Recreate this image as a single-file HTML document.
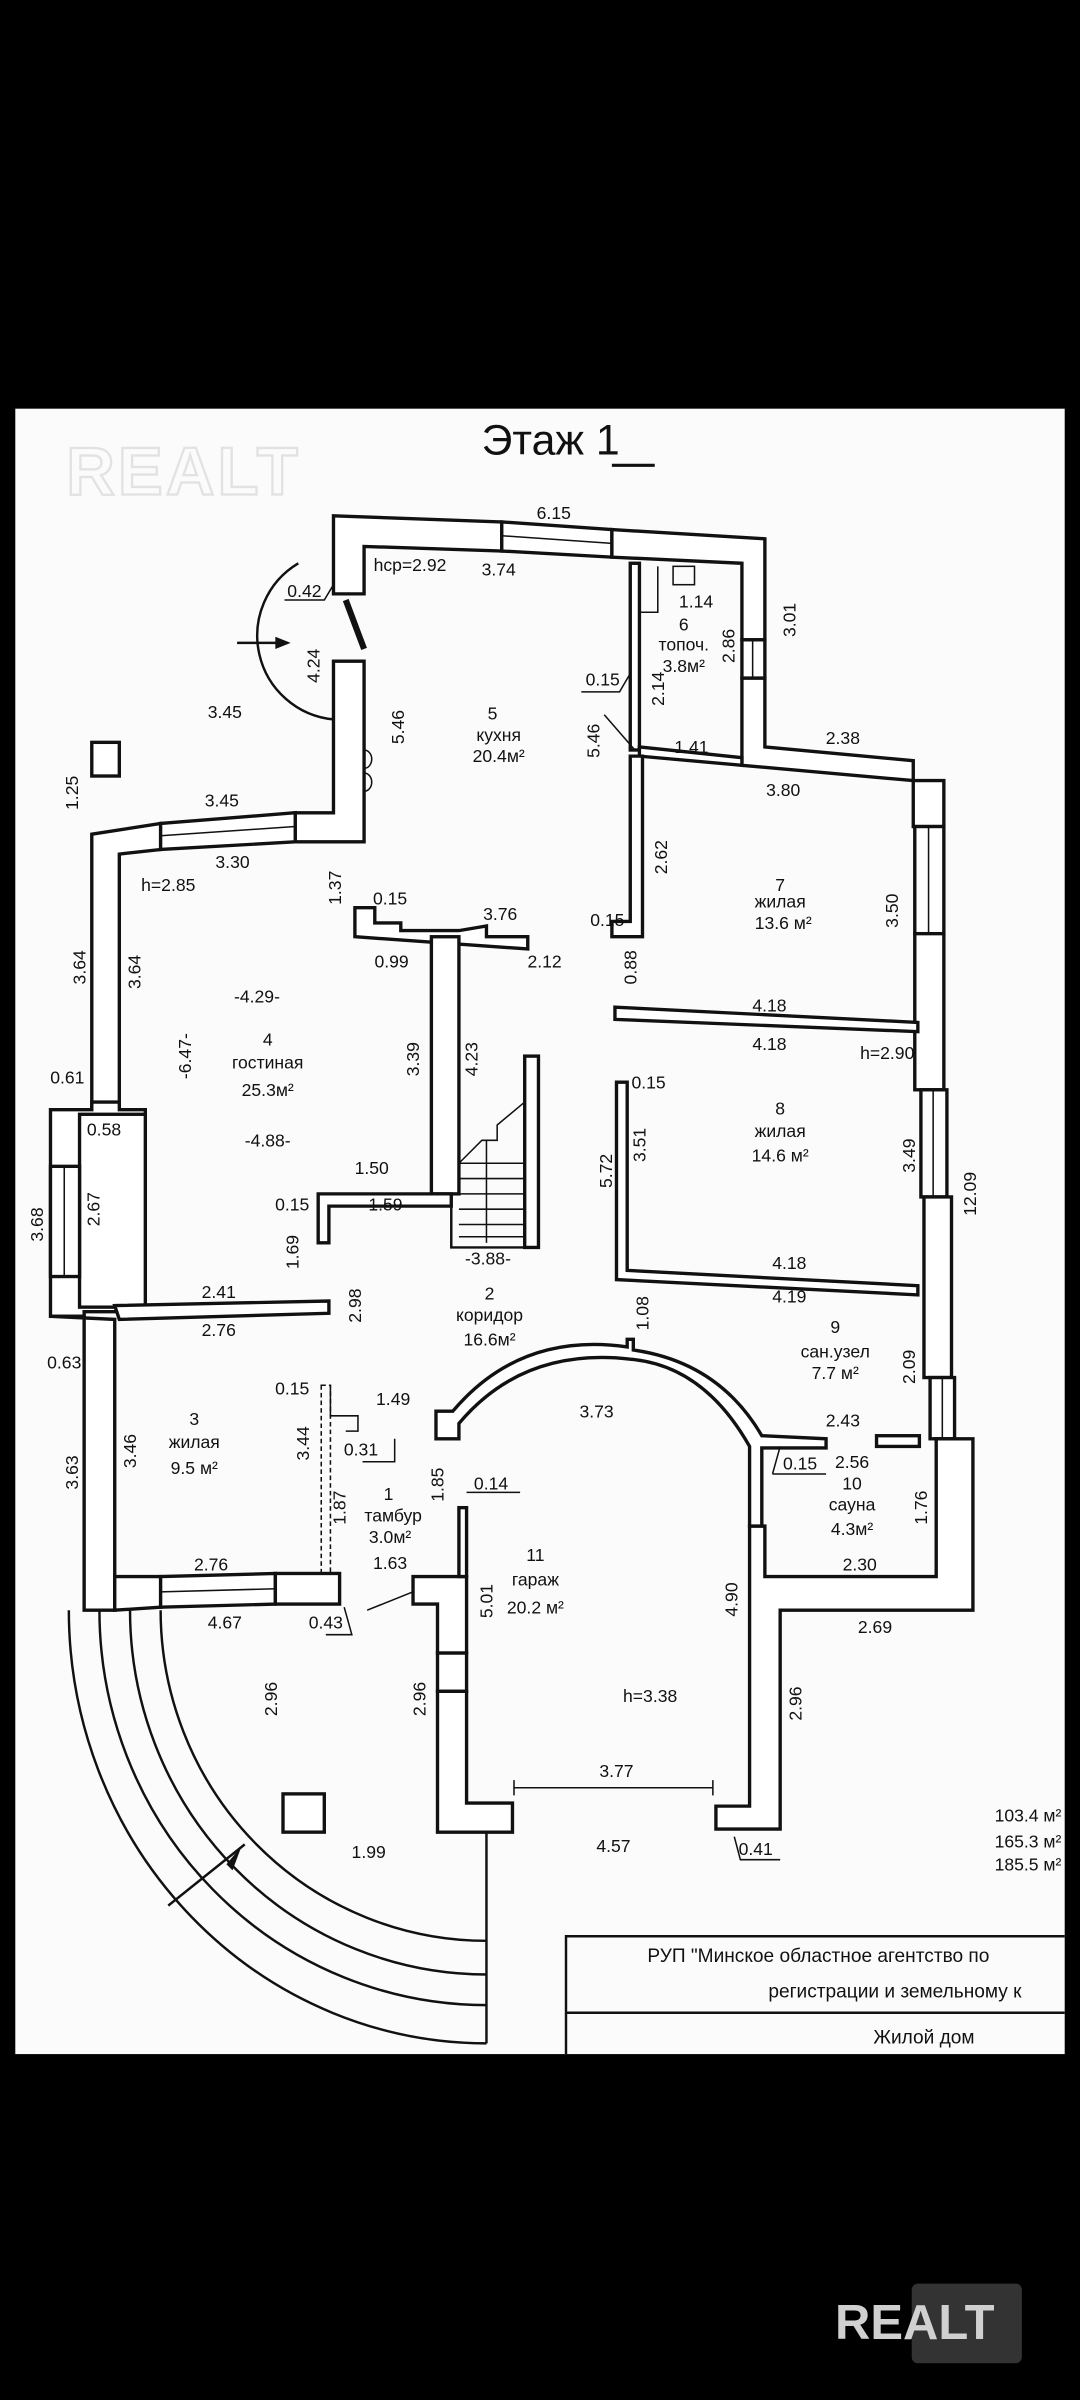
<!DOCTYPE html>
<html><head><meta charset="utf-8"><style>
html,body{margin:0;padding:0;background:#000;}
svg{display:block}
text{font-family:"Liberation Sans","DejaVu Sans",sans-serif;font-size:11.5px;fill:#111;text-anchor:middle}
.w{fill:#fff;stroke:#111;stroke-width:2.2}
.l{fill:none;stroke:#111;stroke-width:1.6}
.t{fill:none;stroke:#111;stroke-width:1}
</style></head><body>
<svg width="1080" height="2400" viewBox="0 0 706 1568" preserveAspectRatio="none">
<rect x="0" y="0" width="706" height="1568" fill="#000"/>
<rect x="10" y="267" width="686" height="1075" fill="#fbfbfb"/>
<!-- watermark -->
<text x="120" y="323" style="font-size:44px;font-weight:bold;fill:#fbfbfb;stroke:#e2e2e2;stroke-width:1.5;letter-spacing:2px">REALT</text>
<!-- title -->
<text x="360" y="297" style="font-size:28px">Этаж <tspan>1</tspan></text>
<line x1="400" y1="304" x2="428" y2="304" stroke="#111" stroke-width="2"/>

<!-- kitchen walls -->
<polygon class="w" points="218,337 328,341 328,360 238,357 238,388 218,388"/>
<polygon class="w" points="328,341 400,346 400,364 328,360"/>
<line class="t" x1="328" y1="350" x2="400" y2="355"/>
<polygon class="w" points="400,346 500,352 500,418 485,418 485,368 400,364"/>
<polygon class="w" points="485,443 500,443 500,488 597,497 597,540 617,540 617,510 597,510 485,500"/>
<rect class="w" x="485" y="418" width="15" height="25"/>
<line class="t" x1="492" y1="418" x2="492" y2="443"/>
<!-- door -->
<path class="l" d="M195,368 A55,55 0 0 0 218,470"/>
<line x1="226" y1="392" x2="238" y2="424" stroke="#111" stroke-width="4"/>
<line class="l" x1="155" y1="420" x2="188" y2="420"/>
<polygon points="190,420 180,416 180,424" fill="#111"/>
<polygon class="w" points="218,432 238,432 238,550 193,550 193,531 218,531"/>
<path class="t" d="M238,490 a5,6 0 0 1 0,12 M238,505 a5,6 0 0 1 0,12"/>
<polygon class="w" points="60,545 105,538 105,555 78,558 78,725 60,725"/>
<polygon class="w" points="105,538 193,531 193,550 105,555"/>
<line class="t" x1="105" y1="546" x2="193" y2="540"/>
<!-- boiler room -->
<rect class="w" x="412" y="368" width="6" height="122"/>
<polyline class="t" points="418,368 418,400 430,400 430,370"/>
<rect class="t" x="440" y="370" width="14" height="12"/>
<polygon class="w" points="418,488 485,495 485,500 418,494"/>
<line class="t" x1="395" y1="467" x2="415" y2="490"/>
<!-- room7 left wall -->
<polygon class="w" points="412,494 420,494 420,612 400,612 400,602 412,602"/>
<!-- right wall -->
<rect class="w" x="598" y="540" width="19" height="70"/>
<line class="t" x1="607" y1="540" x2="607" y2="610"/>
<rect class="w" x="598" y="610" width="19" height="102"/>
<rect class="w" x="602" y="712" width="17" height="70"/>
<line class="t" x1="610" y1="712" x2="610" y2="782"/>
<rect class="w" x="604" y="782" width="18" height="118"/>
<rect class="w" x="608" y="900" width="16" height="40"/>
<line class="t" x1="616" y1="900" x2="616" y2="940"/>
<polygon class="w" points="612,940 636,940 636,1052 510,1052 510,1195 468,1195 468,1180 490,1180 490,997 500,997 500,1030 612,1030"/>
<!-- interior partitions -->
<polygon class="w" points="402,658 600,668 600,674 402,666"/>
<polygon class="w" points="403,707 410,707 410,830 600,840 600,846 403,836"/>
<!-- kitchen/living partition -->
<polygon class="w" points="232,593 245,593 245,603 262,603 262,608 300,608 318,605 318,612 345,612 345,620 232,612"/>
<rect class="w" x="282" y="612" width="18" height="168"/>
<!-- stairs -->
<rect class="w" x="343" y="690" width="9" height="125"/>
<polyline class="l" points="295,780 295,815 352,815"/>
<polyline class="t" points="300,780 300,760 315,745 325,745 325,735 343,720"/>
<g class="t"><line x1="300" y1="760" x2="343" y2="760"/><line x1="300" y1="770" x2="343" y2="770"/><line x1="300" y1="780" x2="343" y2="780"/><line x1="300" y1="790" x2="343" y2="790"/><line x1="300" y1="800" x2="343" y2="800"/><line x1="300" y1="808" x2="343" y2="808"/><line x1="318" y1="745" x2="318" y2="812"/></g>
<polygon class="w" points="208,780 295,780 295,788 215,788 215,812 208,812"/>
<!-- left wall bump -->
<polygon class="w" points="33,725 60,725 60,720 78,720 78,725 95,725 95,857 55,857 55,860 33,860"/>
<rect class="w" x="52" y="728" width="43" height="126"/>
<rect class="w" x="33" y="762" width="19" height="72"/>
<line class="t" x1="42" y1="762" x2="42" y2="834"/>
<polygon class="w" points="75,853 215,850 215,858 78,862"/>
<polygon class="w" points="33,860 55,860 55,1052 75,1052 75,862"/>
<!-- room3 bottom -->
<polygon class="w" points="75,1030 105,1030 105,1050 75,1052"/>
<polygon class="w" points="105,1030 180,1028 180,1048 105,1050"/>
<line class="t" x1="105" y1="1040" x2="180" y2="1038"/>
<rect class="w" x="180" y="1028" width="42" height="20"/>
<rect class="t" x="210" y="905" width="6" height="123" stroke-dasharray="3,2"/>
<polyline class="t" points="216,905 216,925 234,925 234,935 226,935"/>
<!-- garage walls -->
<polygon class="w" points="270,1030 305,1030 305,1080 286,1080 286,1048 270,1048"/>
<rect class="w" x="286" y="1080" width="19" height="25"/>
<polygon class="w" points="286,1105 305,1105 305,1178 335,1178 335,1197 286,1197"/>
<rect class="w" x="300" y="985" width="5" height="45"/>
<!-- arc -->
<path class="w" d="M285,940 L285,922 L296,922 Q340,870 410,880 L410,875 L414,875 L414,882 Q470,890 498,938 L540,940 L540,946 L498,946 L498,997 L490,997 L490,945 Q460,892 412,888 Q342,880 300,930 L300,940 Z"/>
<rect class="w" x="573" y="938" width="28" height="7"/>
<!-- small squares -->
<rect class="w" x="60" y="485" width="18" height="22" stroke-width="2.5"/>
<rect class="w" x="185" y="1172" width="27" height="25" stroke-width="2.5"/>
<!-- porch arcs -->
<g class="l">
<path d="M45,1052 A273,283 0 0 0 318,1335"/>
<path d="M65,1052 A253,258 0 0 0 318,1310"/>
<path d="M85,1052 A233,238 0 0 0 318,1290"/>
<path d="M105,1052 A213,216 0 0 0 318,1268"/>
<line x1="318" y1="1197" x2="318" y2="1335"/>
<line x1="110" y1="1245" x2="160" y2="1205"/>
</g>
<polygon points="148,1218 158,1206 152,1222" fill="#111"/>
<!-- dimension line -->
<line class="t" x1="336" y1="1168" x2="466" y2="1168"/><line class="t" x1="336" y1="1163" x2="336" y2="1173"/><line class="t" x1="466" y1="1163" x2="466" y2="1173"/>
<!-- leaders -->
<g class="t">
<polyline points="186,392 212,392 218,382"/>
<polyline points="380,452 405,452 412,440"/>
<polyline points="237,955 258,955 258,940"/>
<polyline points="213,1068 230,1068 225,1050"/>
<polyline points="305,975 340,975"/><line x1="240" y1="1052" x2="270" y2="1040"/>
<polyline points="505,963 540,963"/><line x1="505" y1="963" x2="510" y2="945"/>
<polyline points="480,1200 484,1215 510,1215"/>
</g>
<!-- title block -->
<polyline class="l" points="696,1265 370,1265 370,1342"/>
<line class="l" x1="370" y1="1315" x2="696" y2="1315"/>
<text x="535" y="1282" style="font-size:12.5px">РУП "Минское областное агентство по</text>
<text x="585" y="1305" style="font-size:12.5px">регистрации и земельному к</text>
<text x="604" y="1335" style="font-size:12.5px">Жилой дом</text>
<text x="672" y="1190" style="font-size:11.5px">103.4 м²</text>
<text x="672" y="1207" style="font-size:11.5px">165.3 м²</text>
<text x="672" y="1222" style="font-size:11.5px">185.5 м²</text>
<!-- labels -->
<text x="362" y="339">6.15</text><text x="268" y="373">hcp=2.92</text><text x="326" y="376">3.74</text>
<text x="199" y="390">0.42</text><text x="455" y="397">1.14</text><text x="447" y="412">6</text>
<text x="447" y="425">топоч.</text><text x="447" y="439">3.8м²</text>
<text x="394" y="448">0.15</text><text x="452" y="492">1.41</text><text x="551" y="486">2.38</text>
<text x="512" y="520">3.80</text><text x="147" y="469">3.45</text><text x="322" y="470">5</text>
<text x="326" y="484">кухня</text><text x="326" y="498">20.4м²</text><text x="145" y="527">3.45</text>
<text x="152" y="567">3.30</text><text x="110" y="582">h=2.85</text><text x="255" y="591">0.15</text>
<text x="327" y="601">3.76</text><text x="256" y="632">0.99</text><text x="356" y="632">2.12</text>
<text x="510" y="582">7</text><text x="510" y="593">жилая</text><text x="512" y="607">13.6 м²</text>
<text x="397" y="605">0.15</text><text x="168" y="655">-4.29-</text><text x="503" y="661">4.18</text>
<text x="503" y="686">4.18</text><text x="580" y="692">h=2.90</text><text x="175" y="683">4</text>
<text x="175" y="698">гостиная</text><text x="175" y="716">25.3м²</text><text x="44" y="708">0.61</text>
<text x="424" y="711">0.15</text><text x="68" y="742">0.58</text><text x="510" y="728">8</text>
<text x="510" y="743">жилая</text><text x="510" y="759">14.6 м²</text><text x="175" y="749">-4.88-</text>
<text x="243" y="767">1.50</text><text x="191" y="791">0.15</text><text x="252" y="791">1.59</text>
<text x="319" y="826">-3.88-</text><text x="516" y="829">4.18</text><text x="143" y="848">2.41</text>
<text x="516" y="851">4.19</text><text x="320" y="849">2</text><text x="320" y="863">коридор</text>
<text x="320" y="879">16.6м²</text><text x="546" y="871">9</text><text x="546" y="887">сан.узел</text>
<text x="546" y="901">7.7 м²</text><text x="42" y="894">0.63</text><text x="143" y="873">2.76</text>
<text x="191" y="911">0.15</text><text x="257" y="918">1.49</text><text x="390" y="926">3.73</text>
<text x="551" y="932">2.43</text><text x="127" y="931">3</text><text x="127" y="946">жилая</text>
<text x="127" y="963">9.5 м²</text><text x="236" y="951">0.31</text><text x="523" y="960">0.15</text>
<text x="557" y="959">2.56</text><text x="557" y="973">10</text><text x="557" y="987">сауна</text>
<text x="557" y="1003">4.3м²</text><text x="321" y="973">0.14</text><text x="254" y="980">1</text>
<text x="257" y="994">тамбур</text><text x="255" y="1008">3.0м²</text><text x="255" y="1025">1.63</text>
<text x="138" y="1026">2.76</text><text x="562" y="1026">2.30</text><text x="350" y="1020">11</text>
<text x="350" y="1036">гараж</text><text x="350" y="1054">20.2 м²</text><text x="572" y="1067">2.69</text>
<text x="147" y="1064">4.67</text><text x="213" y="1064">0.43</text><text x="425" y="1112">h=3.38</text>
<text x="403" y="1161">3.77</text><text x="241" y="1214">1.99</text><text x="401" y="1210">4.57</text>
<text x="494" y="1212">0.41</text>
<!-- vertical labels -->
<g>
<text transform="translate(480,422) rotate(-90)">2.86</text>
<text transform="translate(520,405) rotate(-90)">3.01</text>
<text transform="translate(434,450) rotate(-90)">2.14</text>
<text transform="translate(392,484) rotate(-90)">5.46</text>
<text transform="translate(209,435) rotate(-90)">4.24</text>
<text transform="translate(264,475) rotate(-90)">5.46</text>
<text transform="translate(51,518) rotate(-90)">1.25</text>
<text transform="translate(223,580) rotate(-90)">1.37</text>
<text transform="translate(436,560) rotate(-90)">2.62</text>
<text transform="translate(587,595) rotate(-90)">3.50</text>
<text transform="translate(56,632) rotate(-90)">3.64</text>
<text transform="translate(92,635) rotate(-90)">3.64</text>
<text transform="translate(416,632) rotate(-90)">0.88</text>
<text transform="translate(125,690) rotate(-90)">-6.47-</text>
<text transform="translate(274,692) rotate(-90)">3.39</text>
<text transform="translate(312,692) rotate(-90)">4.23</text>
<text transform="translate(422,748) rotate(-90)">3.51</text>
<text transform="translate(400,765) rotate(-90)">5.72</text>
<text transform="translate(598,755) rotate(-90)">3.49</text>
<text transform="translate(638,780) rotate(-90)">12.09</text>
<text transform="translate(28,800) rotate(-90)">3.68</text>
<text transform="translate(65,790) rotate(-90)">2.67</text>
<text transform="translate(195,818) rotate(-90)">1.69</text>
<text transform="translate(236,853) rotate(-90)">2.98</text>
<text transform="translate(424,858) rotate(-90)">1.08</text>
<text transform="translate(598,893) rotate(-90)">2.09</text>
<text transform="translate(89,948) rotate(-90)">3.46</text>
<text transform="translate(202,943) rotate(-90)">3.44</text>
<text transform="translate(51,962) rotate(-90)">3.63</text>
<text transform="translate(606,985) rotate(-90)">1.76</text>
<text transform="translate(290,970) rotate(-90)">1.85</text>
<text transform="translate(226,985) rotate(-90)">1.87</text>
<text transform="translate(322,1046) rotate(-90)">5.01</text>
<text transform="translate(482,1045) rotate(-90)">4.90</text>
<text transform="translate(181,1110) rotate(-90)">2.96</text>
<text transform="translate(278,1110) rotate(-90)">2.96</text>
<text transform="translate(524,1113) rotate(-90)">2.96</text>
</g>
<!-- bottom logo -->
<rect x="596" y="1492" width="72" height="52" rx="4" fill="#333"/>
<text x="598" y="1528" style="font-size:32px;font-weight:bold;fill:#d0d0d0;stroke:none">REALT</text>
</svg>
</body></html>
